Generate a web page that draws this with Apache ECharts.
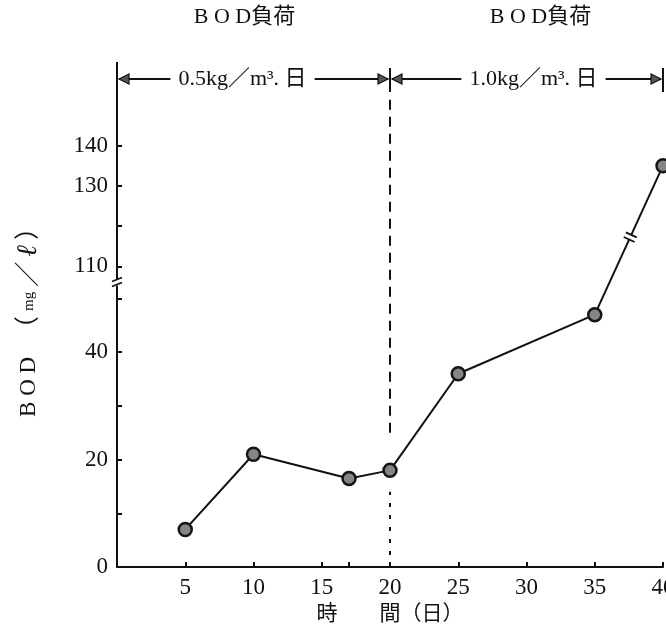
<!DOCTYPE html>
<html>
<head>
<meta charset="utf-8">
<script src="https://cdn.jsdelivr.net/npm/echarts@6/dist/echarts.min.js"></script>
<style>
  html, body { margin: 0; padding: 0; background: #fff; }
  #chart { width: 666px; height: 632px; }
</style>
</head>
<body>
<div id="chart"></div>
<script>
// Sampling days and effluent BOD (mg/ℓ)
const days = [5, 10, 17, 20, 25, 35, 40];
const bod = [7, 21, 16.5, 18, 36, 47, 135];

// Axis ticks and labels
const xTicks = [5, 10, 15, 17, 20, 25, 30, 35, 40];
const xTickLabels = [5, 10, 15, 20, 25, 30, 35, 40];
const yTicks = [0, 10, 20, 30, 40, 50, 110, 120, 130, 140];
const yTickLabels = [0, 20, 40, 110, 130, 140];

// Loading periods shown above the plot
const periodTitle = 'B O D負荷';
const periodStarts = [0, 20];
const periodEnds = [20, 40];
const periodLabels = ['0.5kg／m³. 日', '1.0kg／m³. 日'];

// Day on which the loading changed; the divider runs in two pieces
const changeDay = 20;
const dividerUpper = [25, 153];
const dividerLower = [0, 14];

// Broken value axis: 0–53 at full scale, 106–160 at 3/4 scale above it
const BREAK_LO = 53, BREAK_HI = 106, UPPER_SCALE = 0.75, AXIS_TOP = 160;
function toAxis(v) {
  return v <= BREAK_LO ? v : BREAK_LO + (Math.max(v, BREAK_HI) - BREAK_HI) * UPPER_SCALE;
}
function fromAxis(a) {
  return a <= BREAK_LO ? a : BREAK_HI + (a - BREAK_LO) / UPPER_SCALE;
}

const FONT = "'Liberation Serif', 'Noto Sans CJK JP', serif";
const INK = '#111';

const chart = echarts.init(document.getElementById('chart'), null, { renderer: 'canvas' });

chart.setOption({
  animation: false,
  backgroundColor: '#fff',
  grid: { left: 117, right: 3, top: 65, bottom: 65, containLabel: false, outerBoundsMode: 'none' },
  xAxis: {
    type: 'value',
    min: 0, max: 40,
    name: '時　　間（日）',
    nameLocation: 'middle',
    nameGap: 27,
    nameTextStyle: { fontFamily: FONT, fontSize: 21, color: INK, verticalAlign: 'top' },
    axisLine: { lineStyle: { color: INK, width: 2 } },
    axisTick: { inside: true, length: 5, customValues: xTicks, lineStyle: { color: INK, width: 2 } },
    axisLabel: {
      customValues: xTickLabels, margin: 9,
      fontFamily: FONT, fontSize: 23, color: INK
    },
    splitLine: { show: false }
  },
  yAxis: {
    type: 'value',
    min: 0, max: toAxis(AXIS_TOP),
    name: '{a|B O D}{s| }{b|（}{c|mg}{b|／}{d|ℓ}{b|）}',
    nameLocation: 'middle',
    nameRotate: 90,
    nameGap: 74,
    nameTextStyle: {
      color: INK,
      rich: {
        a: { fontFamily: FONT, fontSize: 23, color: INK },
        s: { fontFamily: FONT, fontSize: 22, color: INK, width: 16 },
        b: { fontFamily: FONT, fontSize: 25, color: INK },
        c: { fontFamily: FONT, fontSize: 15, color: INK, padding: [0, 5] },
        d: { fontFamily: FONT, fontSize: 28, fontStyle: 'italic', color: INK, padding: [0, 5] }
      }
    },
    axisLine: { lineStyle: { color: INK, width: 2 } },
    axisTick: { inside: true, length: 5, customValues: yTicks.map(toAxis), lineStyle: { color: INK, width: 2 } },
    axisLabel: {
      customValues: yTickLabels.map(toAxis), margin: 9,
      fontFamily: FONT, fontSize: 23, color: INK,
      formatter: v => String(Math.round(fromAxis(v)))
    },
    splitLine: { show: false }
  },
  series: [
    {
      name: 'divider-upper',
      type: 'line',
      data: dividerUpper.map(v => [changeDay, toAxis(v)]),
      symbol: 'none',
      lineStyle: { color: INK, width: 2, type: [10, 7] },
      z: 1
    },
    {
      name: 'divider-lower',
      type: 'line',
      data: dividerLower.map(v => [changeDay, toAxis(v)]),
      symbol: 'none',
      lineStyle: { color: INK, width: 2, type: [4, 8] },
      z: 1
    },
    {
      name: 'BOD',
      type: 'line',
      data: days.map((d, i) => [d, toAxis(bod[i])]),
      symbol: 'circle',
      symbolSize: 13,
      lineStyle: { color: INK, width: 2 },
      itemStyle: { color: '#858585', borderColor: '#151515', borderWidth: 2.5 },
      z: 5
    }
  ]
});

// Period arrows, titles and break marks, positioned from the axes
const px = d => chart.convertToPixel({ xAxisIndex: 0 }, d);
const py = v => chart.convertToPixel({ yAxisIndex: 0 }, toAxis(v));
const ARROW_Y = 79, TITLE_Y = 17;
const g = [];

function arrowHead(tipX, dir) {
  // dir = -1 points left, +1 points right
  return {
    type: 'polygon', z: 100,
    shape: { points: [[tipX, ARROW_Y], [tipX - dir * 10, ARROW_Y - 5], [tipX - dir * 10, ARROW_Y + 5]] },
    style: { fill: '#555', stroke: INK, lineWidth: 1.2 }
  };
}

periodStarts.forEach((s, i) => {
  const x0 = px(s) + 2, x1 = px(periodEnds[i]) - 2;
  g.push({ type: 'line', z: 99, shape: { x1: x0, y1: ARROW_Y, x2: x1, y2: ARROW_Y }, style: { stroke: INK, lineWidth: 2 } });
  g.push(arrowHead(x0, -1));
  g.push(arrowHead(x1, 1));
  const mid = (x0 + x1) / 2 + (i === 0 ? -11 : 7);
  g.push({
    type: 'text', z: 101, x: mid, y: ARROW_Y,
    style: {
      text: periodLabels[i], font: '22px ' + FONT, fill: INK,
      align: 'center', verticalAlign: 'middle',
      backgroundColor: '#fff', padding: [0, 8]
    }
  });
  g.push({
    type: 'text', z: 101, x: (px(s) + px(periodEnds[i])) / 2 + (i === 0 ? -9 : 14), y: TITLE_Y,
    style: { text: periodTitle, font: '22px ' + FONT, fill: INK, align: 'center', verticalAlign: 'middle' }
  });
});

// Bars closing the arrows
[changeDay, 40].forEach(d => {
  g.push({ type: 'line', z: 99, shape: { x1: px(d), y1: 68, x2: px(d), y2: 92 }, style: { stroke: INK, lineWidth: 2 } });
});
g.push({ type: 'line', z: 99, shape: { x1: px(0), y1: 62, x2: px(0), y2: 92 }, style: { stroke: INK, lineWidth: 2 } });

// Break on the value axis
const ax = px(0), by = py(BREAK_LO);
g.push({ type: 'rect', z: 100, shape: { x: ax - 3, y: by - 3, width: 6, height: 6 }, style: { fill: '#fff' } });
g.push({ type: 'line', z: 101, shape: { x1: ax - 5, y1: by - 1, x2: ax + 5, y2: by - 5 }, style: { stroke: INK, lineWidth: 1.6 } });
g.push({ type: 'line', z: 101, shape: { x1: ax - 5, y1: by + 4, x2: ax + 5, y2: by }, style: { stroke: INK, lineWidth: 1.6 } });

// Break on the rising segment between the last two samples
const n = days.length;
const pA = [px(days[n - 2]), py(bod[n - 2])], pB = [px(days[n - 1]), py(bod[n - 1])];
const t = 0.52;
const m = [pA[0] + (pB[0] - pA[0]) * t, pA[1] + (pB[1] - pA[1]) * t];
const len = Math.hypot(pB[0] - pA[0], pB[1] - pA[1]);
const u = [(pB[0] - pA[0]) / len, (pB[1] - pA[1]) / len];
const nrm = [-u[1], u[0]];
g.push({ type: 'line', z: 100, shape: { x1: m[0] - u[0] * 2, y1: m[1] - u[1] * 2, x2: m[0] + u[0] * 2, y2: m[1] + u[1] * 2 }, style: { stroke: '#fff', lineWidth: 5 } });
[-2.5, 2.5].forEach(o => {
  const c = [m[0] + u[0] * o, m[1] + u[1] * o];
  g.push({ type: 'line', z: 101, shape: { x1: c[0] - nrm[0] * 6, y1: c[1] - nrm[1] * 6, x2: c[0] + nrm[0] * 6, y2: c[1] + nrm[1] * 6 }, style: { stroke: INK, lineWidth: 1.8 } });
});

chart.setOption({ graphic: { elements: g } });
</script>
</body>
</html>
